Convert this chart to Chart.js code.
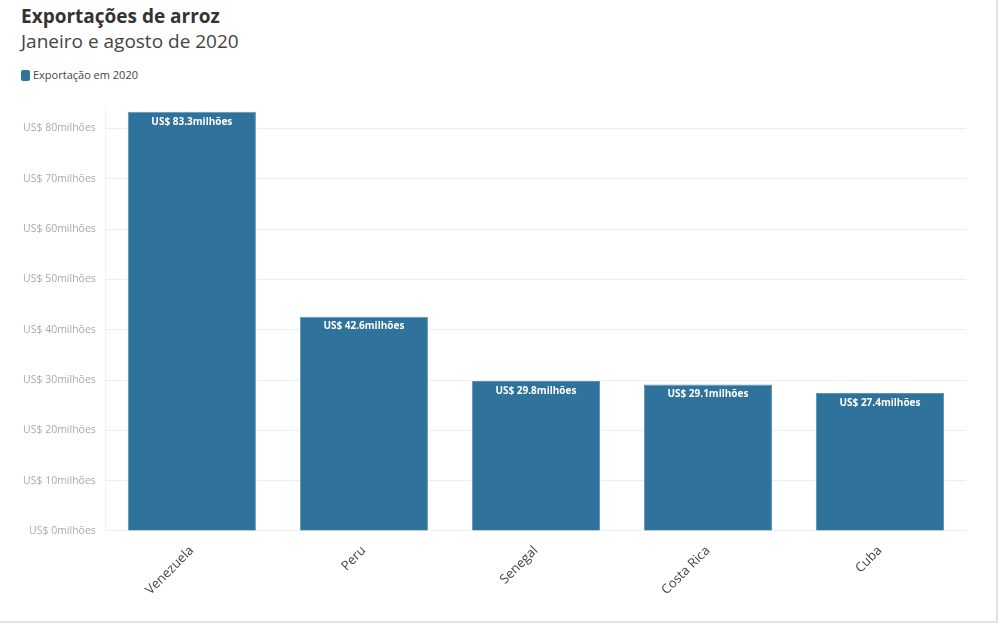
<!DOCTYPE html>
<html>
<head>
<meta charset="utf-8">
<script src="https://cdn.jsdelivr.net/npm/chart.js@4"></script>
<style>
  body { margin: 0; background: #fff; font-family: "Open Sans", sans-serif; }
  #frame { position: relative; width: 996px; height: 621px; border-right: 2px solid #e2e2e2; border-bottom: 2px solid #e2e2e2; }
  #title { position: absolute; left: 21px; top: 3px; font-size: 19px; font-weight: bold; color: #333; }
  #subtitle { position: absolute; left: 21px; top: 28px; font-size: 19px; color: #444; }
  #legend { position: absolute; left: 21px; top: 67px; font-size: 11px; color: #444; }
  #legend span { display: inline-block; width: 9px; height: 11px; border-radius: 2px; background: #2f729b; vertical-align: -2px; margin-right: 3px; }
  #wrap { position: absolute; left: 0; top: 92px; width: 966px; height: 510px; }
</style>
</head>
<body>
<div id="frame">
  <div id="title">Exportações de arroz</div>
  <div id="subtitle">Janeiro e agosto de 2020</div>
  <div id="legend"><span></span>Exportação em 2020</div>
  <div id="wrap"><canvas id="chart"></canvas></div>
</div>
<script>
const countries = ['Venezuela', 'Peru', 'Senegal', 'Costa Rica', 'Cuba'];
const exports2020 = [83.3, 42.6, 29.8, 29.1, 27.4];
const yTicks = [0, 10, 20, 30, 40, 50, 60, 70, 80];

const barColor = '#2f729b';

const valueLabels = {
  id: 'valueLabels',
  afterDatasetsDraw(chart) {
    const ctx = chart.ctx;
    const meta = chart.getDatasetMeta(0);
    ctx.save();
    ctx.fillStyle = '#fff';
    ctx.font = 'bold 10px "Open Sans"';
    ctx.textAlign = 'center';
    ctx.textBaseline = 'top';
    meta.data.forEach((bar, i) => {
      ctx.fillText('US$ ' + exports2020[i].toFixed(1) + 'milhões', bar.x, bar.y + 5);
    });
    ctx.restore();
  }
};

new Chart(document.getElementById('chart').getContext('2d'), {
  type: 'bar',
  data: {
    labels: countries,
    datasets: [{
      label: 'Exportação em 2020',
      data: exports2020,
      backgroundColor: barColor,
      borderColor: '#5b94b8',
      borderWidth: 1,
      categoryPercentage: 0.745,
      barPercentage: 1
    }]
  },
  options: {
    responsive: true,
    maintainAspectRatio: false,
    animation: false,
    layout: { padding: { left: 13, top: 6, right: 0, bottom: 0 } },
    plugins: { legend: { display: false }, tooltip: { enabled: false } },
    scales: {
      x: {
        grid: { display: false },
        border: { color: '#eee' },
        ticks: {
          color: '#444',
          font: { family: 'Open Sans', size: 13 },
          minRotation: 45,
          maxRotation: 45,
          padding: 4
        }
      },
      y: {
        min: 0,
        max: 84,
        afterBuildTicks(scale) {
          scale.ticks = yTicks.map(v => ({ value: v }));
        },
        grid: { color: '#eeeeee', drawTicks: false },
        border: { color: '#f0f0f0' },
        ticks: {
          color: '#aaa',
          padding: 10,
          font: { family: 'Open Sans', size: 10.5 },
          callback: v => 'US$ ' + v + 'milhões'
        }
      }
    }
  },
  plugins: [valueLabels]
});
</script>
</body>
</html>
